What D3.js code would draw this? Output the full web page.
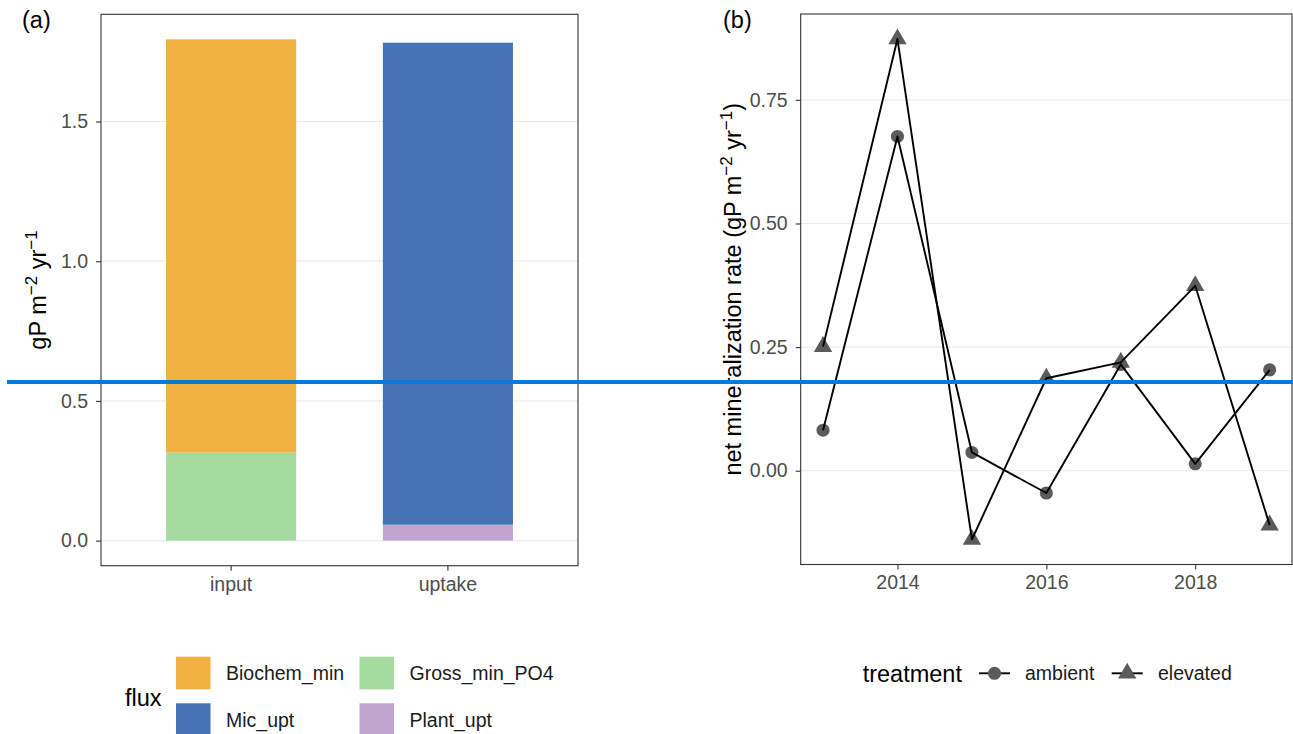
<!DOCTYPE html>
<html>
<head>
<meta charset="utf-8">
<script src="https://cdn.jsdelivr.net/npm/d3@7"></script>
<style>
  body { margin: 0; background: #ffffff; }
  text { font-family: "Liberation Sans", Arial, Helvetica, sans-serif; }
</style>
</head>
<body>
<svg id="chart" width="1293" height="734"></svg>
<script>
// ---- Panel (a): P flux budget, stacked bars ----
const fluxCategories = ["input", "uptake"];
const fluxNames = ["Biochem_min", "Gross_min_PO4", "Mic_upt", "Plant_upt"];
const fluxColours = ["#F0B042", "#A6DBA0", "#4474B5", "#C2A5CF"];
const biochemMin = [1.479, 0];
const grossMinPO4 = [0.315, 0];
const micUpt = [0, 1.725];
const plantUpt = [0, 0.057];
const fluxTicks = [0, 0.5, 1.0, 1.5];

// ---- Panel (b): net mineralization by year ----
const years = [2013, 2014, 2015, 2016, 2017, 2018, 2019];
const ambient = [0.082, 0.676, 0.037, -0.045, 0.215, 0.014, 0.204];
const elevated = [0.251, 0.873, -0.139, 0.187, 0.219, 0.374, -0.110];
const yearTicks = [2014, 2016, 2018];
const rateTicks = [0, 0.25, 0.5, 0.75];
const treatments = ["ambient", "elevated"];

// horizontal reference rule, in panel (a) units
const referenceLevel = 0.568;

const svg = d3.select("#chart");
const W = 1293;
const tickGrey = "#4D4D4D";
const frameGrey = "#333333";
const gridGrey = "#EBEBEB";
const pointGrey = "#5B5B5B";

function expand(lo, hi, f = 0.05) {
  const d = hi - lo;
  return [lo - d * f, hi + d * f];
}

// ================= Panel (a) =================
const pa = { left: 101, right: 578, top: 14.3, bottom: 565.7 };
const rows = fluxCategories.map((c, i) => ({
  category: c,
  Biochem_min: biochemMin[i],
  Gross_min_PO4: grossMinPO4[i],
  Mic_upt: micUpt[i],
  Plant_upt: plantUpt[i]
}));
// first level sits on top of each stack
const stack = d3.stack().keys(fluxNames.slice().reverse());
const layers = stack(rows);
const totals = rows.map(r => fluxNames.reduce((s, k) => s + r[k], 0));

const xA = d3.scaleBand().domain(fluxCategories)
  .range([pa.left, pa.right]).paddingInner(0.4).paddingOuter(0.3);
const yA = d3.scaleLinear().domain(expand(0, d3.max(totals)))
  .range([pa.bottom, pa.top]);
const colour = d3.scaleOrdinal().domain(fluxNames).range(fluxColours);

const gA = svg.append("g");
gA.selectAll("line.grid").data(fluxTicks).join("line")
  .attr("x1", pa.left).attr("x2", pa.right)
  .attr("y1", d => yA(d)).attr("y2", d => yA(d))
  .attr("stroke", gridGrey).attr("stroke-width", 1.2);

gA.selectAll("g.layer").data(layers).join("g")
  .attr("fill", d => colour(d.key))
  .selectAll("rect").data(d => d).join("rect")
  .attr("x", d => xA(d.data.category))
  .attr("width", xA.bandwidth())
  .attr("y", d => yA(d[1]))
  .attr("height", d => yA(d[0]) - yA(d[1]));

gA.append("rect")
  .attr("x", pa.left).attr("y", pa.top)
  .attr("width", pa.right - pa.left).attr("height", pa.bottom - pa.top)
  .attr("fill", "none").attr("stroke", frameGrey).attr("stroke-width", 1.1);

const axisYA = gA.append("g").attr("transform", `translate(${pa.left},0)`)
  .call(d3.axisLeft(yA).tickValues(fluxTicks).tickFormat(d3.format(".1f"))
    .tickSize(5).tickPadding(8));
const axisXA = gA.append("g").attr("transform", `translate(0,${pa.bottom})`)
  .call(d3.axisBottom(xA).tickSize(5).tickPadding(6));

function styleAxis(g) {
  g.select(".domain").remove();
  g.selectAll(".tick line").attr("stroke", frameGrey).attr("stroke-width", 1.1);
  g.selectAll(".tick text").attr("fill", tickGrey)
    .style("font-size", "19.5px")
    .style("font-family", '"Liberation Sans", Arial, sans-serif');
}
styleAxis(axisYA);
styleAxis(axisXA);

// y title with superscripts
function unitTitle(sel) {
  sel.append("tspan").text("gP m");
  sel.append("tspan").attr("dy", -9).style("font-size", "17px").text("\u22122");
  sel.append("tspan").attr("dy", 9).text(" yr");
  sel.append("tspan").attr("dy", -9).style("font-size", "17px").text("\u22121");
  sel.append("tspan").attr("dy", 9).text("");
}
const titleA = gA.append("text")
  .attr("transform", `translate(46,${(pa.top + pa.bottom) / 2}) rotate(-90)`)
  .attr("text-anchor", "middle").style("font-size", "23.5px").attr("fill", "#000");
unitTitle(titleA);

svg.append("text").attr("x", 22).attr("y", 28).style("font-size", "23.5px").text("(a)");

// legend for fluxes
const legA = svg.append("g");
legA.append("text").attr("x", 125).attr("y", 706).style("font-size", "23.5px").text("flux");
const keyX = [176, 359.5], keyY = [656.7, 703.3];
fluxNames.forEach((name, i) => {
  const col = i % 2, row = Math.floor(i / 2);
  legA.append("rect").attr("x", keyX[col]).attr("y", keyY[row])
    .attr("width", 34.5).attr("height", 32.6).attr("fill", colour(name));
  legA.append("text").attr("x", keyX[col] + 50).attr("y", keyY[row] + 16.3)
    .attr("dominant-baseline", "central").style("font-size", "19.5px")
    .attr("fill", "#1a1a1a").text(name);
});

// ================= Panel (b) =================
const pb = { left: 800.7, right: 1292, top: 14, bottom: 564.5 };
const allRates = ambient.concat(elevated);
const xB = d3.scaleLinear().domain(expand(d3.min(years), d3.max(years)))
  .range([pb.left, pb.right]);
const yB = d3.scaleLinear().domain(expand(d3.min(allRates), d3.max(allRates)))
  .range([pb.bottom, pb.top]);

const gB = svg.append("g");
gB.selectAll("line.grid").data(rateTicks).join("line")
  .attr("x1", pb.left).attr("x2", pb.right)
  .attr("y1", d => yB(d)).attr("y2", d => yB(d))
  .attr("stroke", gridGrey).attr("stroke-width", 1.2);

const series = [
  { name: "ambient", values: ambient, symbol: d3.symbolCircle, size: 135 },
  { name: "elevated", values: elevated, symbol: d3.symbolTriangle, size: 145 }
];
series.forEach(s => {
  gB.append("g").selectAll("path").data(years).join("path")
    .attr("transform", (d, i) => `translate(${xB(d)},${yB(s.values[i])})`)
    .attr("d", d3.symbol(s.symbol, s.size)())
    .attr("fill", pointGrey);
});
const line = d3.line().x(d => xB(d[0])).y(d => yB(d[1]));
series.forEach(s => {
  gB.append("path").datum(years.map((y, i) => [y, s.values[i]]))
    .attr("d", line).attr("fill", "none")
    .attr("stroke", "#000").attr("stroke-width", 1.9).attr("stroke-linejoin", "round");
});

gB.append("rect")
  .attr("x", pb.left).attr("y", pb.top)
  .attr("width", pb.right - pb.left).attr("height", pb.bottom - pb.top)
  .attr("fill", "none").attr("stroke", frameGrey).attr("stroke-width", 1.1);

const axisYB = gB.append("g").attr("transform", `translate(${pb.left},0)`)
  .call(d3.axisLeft(yB).tickValues(rateTicks).tickFormat(d3.format(".2f"))
    .tickSize(5).tickPadding(8));
const axisXB = gB.append("g").attr("transform", `translate(0,${pb.bottom})`)
  .call(d3.axisBottom(xB).tickValues(yearTicks).tickFormat(d3.format("d"))
    .tickSize(5).tickPadding(6));
styleAxis(axisYB);
styleAxis(axisXB);

const titleB = gB.append("text")
  .attr("transform", `translate(741,${(pb.top + pb.bottom) / 2}) rotate(-90)`)
  .attr("text-anchor", "middle").style("font-size", "23.5px").attr("fill", "#000");
titleB.append("tspan").text("net mineralization rate (gP m");
titleB.append("tspan").attr("dy", -9).style("font-size", "17px").text("\u22122");
titleB.append("tspan").attr("dy", 9).text(" yr");
titleB.append("tspan").attr("dy", -9).style("font-size", "17px").text("\u22121");
titleB.append("tspan").attr("dy", 9).text(")");

svg.append("text").attr("x", 723).attr("y", 28).style("font-size", "23.5px").text("(b)");

// legend for treatments
const legB = svg.append("g");
legB.append("text").attr("x", 862.7).attr("y", 682).style("font-size", "23.5px").text("treatment");
const legKeyX = [979, 1111.7], legLabelX = [1025, 1158], legY = 673.3;
series.forEach((s, i) => {
  legB.append("line").attr("x1", legKeyX[i]).attr("x2", legKeyX[i] + 31)
    .attr("y1", legY).attr("y2", legY).attr("stroke", "#000").attr("stroke-width", 1.9);
  legB.append("path").attr("transform", `translate(${legKeyX[i] + 15.5},${legY})`)
    .attr("d", d3.symbol(s.symbol, s.size)()).attr("fill", pointGrey);
  legB.append("text").attr("x", legLabelX[i]).attr("y", legY)
    .attr("dominant-baseline", "central").style("font-size", "19.5px")
    .attr("fill", "#1a1a1a").text(treatments[i]);
});

// reference rule spanning the figure
svg.append("line")
  .attr("x1", 7).attr("x2", W)
  .attr("y1", yA(referenceLevel)).attr("y2", yA(referenceLevel))
  .attr("stroke", "#0A78D8").attr("stroke-width", 4);
</script>
</body>
</html>
